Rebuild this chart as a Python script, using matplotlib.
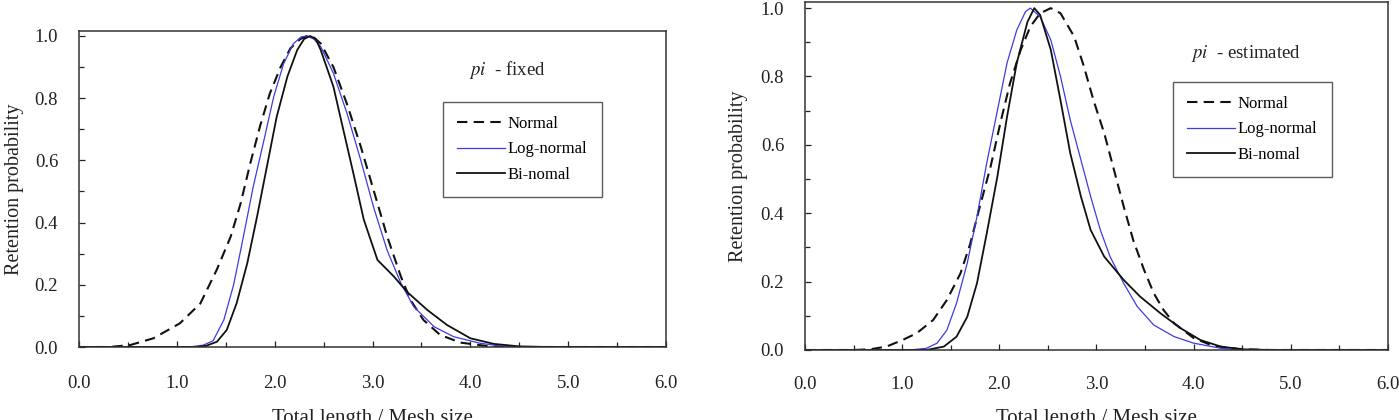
import matplotlib
matplotlib.use('Agg')
import matplotlib.pyplot as plt
import matplotlib.ticker as ticker

plt.rcParams['font.family'] = ['Liberation Serif', 'DejaVu Serif']
plt.rcParams['mathtext.fontset'] = 'stix'

labels = ['Normal', 'Log-normal', 'Bi-nomal']
titles = ['fixed', 'estimated']

# pi - fixed
fix_normal_x = [0.0, 0.3, 0.52, 0.76, 1.03, 1.24, 1.41, 1.55, 1.65, 1.75, 1.85, 1.95, 2.06, 2.16,
                2.26, 2.33, 2.40, 2.47, 2.60, 2.74, 2.88, 3.01, 3.15, 3.29, 3.39, 3.52, 3.69,
                3.90, 4.2, 4.5, 6.0]
fix_normal_y = [0.0, 0.0, 0.006, 0.028, 0.076, 0.14, 0.25, 0.355, 0.46, 0.59, 0.71, 0.815, 0.90,
                0.96, 0.99, 1.0, 0.995, 0.976, 0.90, 0.78, 0.644, 0.505, 0.355, 0.226, 0.15,
                0.087, 0.039, 0.014, 0.002, 0.0, 0.0]
fix_lognorm_x = [0.0, 1.0, 1.15, 1.27, 1.37, 1.48, 1.58, 1.68, 1.78, 1.89, 1.99, 2.09, 2.19, 2.27,
                 2.33, 2.40, 2.47, 2.60, 2.74, 2.88, 3.01, 3.15, 3.29, 3.42, 3.63, 3.83, 4.10,
                 4.31, 4.6, 6.0]
fix_lognorm_y = [0.0, 0.0, 0.001, 0.006, 0.02, 0.087, 0.20, 0.355, 0.515, 0.665, 0.805, 0.91,
                 0.975, 0.997, 1.0, 0.99, 0.966, 0.88, 0.75, 0.60, 0.45, 0.31, 0.205, 0.13,
                 0.065, 0.033, 0.012, 0.003, 0.0, 0.0]
fix_binorm_x = [0.0, 1.2, 1.30, 1.41, 1.51, 1.61, 1.72, 1.82, 1.92, 2.02, 2.13, 2.23, 2.30, 2.36,
                2.42, 2.47, 2.60, 2.70, 2.81, 2.91, 3.05, 3.22, 3.35, 3.56, 3.76, 4.00, 4.24,
                4.5, 4.8, 6.0]
fix_binorm_y = [0.0, 0.0, 0.004, 0.017, 0.055, 0.14, 0.27, 0.42, 0.58, 0.74, 0.87, 0.955, 0.99,
                1.0, 0.99, 0.955, 0.837, 0.70, 0.55, 0.41, 0.28, 0.226, 0.178, 0.119, 0.071,
                0.028, 0.01, 0.002, 0.0, 0.0]

# pi - estimated
est_normal_x = [0.0, 0.5, 0.67, 0.84, 1.01, 1.15, 1.32, 1.46, 1.60, 1.70, 1.80, 1.91, 2.01, 2.11,
                2.22, 2.32, 2.42, 2.53, 2.63, 2.77, 2.87, 2.97, 3.08, 3.18, 3.28, 3.38, 3.49,
                3.59, 3.69, 3.80, 4.0, 4.2, 4.5, 4.8, 6.0]
est_normal_y = [0.0, 0.0, 0.002, 0.01, 0.03, 0.049, 0.088, 0.146, 0.224, 0.31, 0.42, 0.536,
                0.663, 0.78, 0.878, 0.946, 0.985, 1.0, 0.985, 0.917, 0.83, 0.73, 0.634, 0.527,
                0.42, 0.32, 0.234, 0.166, 0.117, 0.078, 0.035, 0.012, 0.002, 0.0, 0.0]
est_lognorm_x = [0.0, 1.08, 1.25, 1.36, 1.46, 1.56, 1.67, 1.77, 1.87, 1.98, 2.08, 2.18, 2.27,
                 2.32, 2.42, 2.53, 2.63, 2.73, 2.84, 2.94, 3.04, 3.14, 3.28, 3.42, 3.59, 3.80,
                 4.0, 4.28, 4.5, 6.0]
est_lognorm_y = [0.0, 0.0, 0.005, 0.02, 0.058, 0.137, 0.254, 0.39, 0.546, 0.70, 0.84, 0.936,
                 0.99, 1.0, 0.975, 0.907, 0.80, 0.673, 0.556, 0.449, 0.351, 0.273, 0.195, 0.127,
                 0.073, 0.039, 0.02, 0.005, 0.0, 0.0]
est_binorm_x = [0.0, 1.25, 1.43, 1.56, 1.67, 1.77, 1.87, 1.98, 2.08, 2.18, 2.29, 2.36, 2.42,
                2.53, 2.63, 2.73, 2.84, 2.94, 3.08, 3.28, 3.45, 3.66, 3.87, 4.07, 4.28, 4.5,
                4.8, 6.0]
est_binorm_y = [0.0, 0.0, 0.01, 0.039, 0.097, 0.195, 0.34, 0.507, 0.683, 0.84, 0.96, 1.0, 0.98,
                0.878, 0.73, 0.576, 0.449, 0.351, 0.273, 0.205, 0.156, 0.107, 0.063, 0.029,
                0.01, 0.002, 0.0, 0.0]

panels = [
    (fix_normal_x, fix_normal_y, fix_lognorm_x, fix_lognorm_y, fix_binorm_x, fix_binorm_y),
    (est_normal_x, est_normal_y, est_lognorm_x, est_lognorm_y, est_binorm_x, est_binorm_y),
]

# axes placement / annotation spots, per panel
rects = [[0.0565, 0.1738, 0.4196, 0.7524], [0.5754, 0.1667, 0.4167, 0.8286]]
ytops = [1.016, 1.018]
text_pos = [(0.664, 0.877), (0.662, 0.851)]
leg_pos = [(0.620, 0.775), (0.631, 0.770)]
xlab_y = [-0.196, -0.170]
ylab_x = [-0.094, -0.098]
xpads = [20, 19]

BLUE = '#3c3ce0'

fig = plt.figure(figsize=(13.99, 4.2), dpi=100)

for i, p in enumerate(panels):
    ax = fig.add_axes(rects[i])
    ax.plot(p[0], p[1], color='#111111', lw=1.5, ls=(0, (5, 3)), label=labels[0])
    ax.plot(p[2], p[3], color=BLUE, lw=0.9, label=labels[1])
    ax.plot(p[4], p[5], color='#111111', lw=1.3, label=labels[2])

    ax.set_xlim(0, 6)
    ax.set_ylim(0, ytops[i])
    ax.xaxis.set_major_locator(ticker.MultipleLocator(1.0))
    ax.xaxis.set_minor_locator(ticker.MultipleLocator(0.5))
    ax.yaxis.set_major_locator(ticker.MultipleLocator(0.2))
    ax.yaxis.set_minor_locator(ticker.MultipleLocator(0.1))
    ax.xaxis.set_major_formatter(ticker.FormatStrFormatter('%.1f'))
    ax.yaxis.set_major_formatter(ticker.FormatStrFormatter('%.1f'))
    ax.tick_params(which='both', direction='in', top=False, right=False, labelsize=13.5,
                   colors='#222222')
    ax.tick_params(axis='x', which='both', pad=xpads[i])
    ax.tick_params(axis='y', which='both', pad=15)
    ax.tick_params(which='major', length=4.5, width=0.9)
    ax.tick_params(which='minor', length=3.5, width=0.9)
    for s in ax.spines.values():
        s.set_linewidth(1.1)
        s.set_color('#333333')

    ax.set_xlabel('Total length / Mesh size', fontsize=15, color='#222222')
    ax.set_ylabel('Retention probability', fontsize=14.5, color='#222222')
    ax.xaxis.set_label_coords(0.5, xlab_y[i])
    ax.yaxis.set_label_coords(ylab_x[i], 0.5)

    ax.text(text_pos[i][0], text_pos[i][1], r'$pi$  - ' + titles[i], transform=ax.transAxes,
            fontsize=13.5, va='center', ha='left', color='#222222')

    leg = ax.legend(loc='upper left', bbox_to_anchor=leg_pos[i], fontsize=12,
                    frameon=True, fancybox=False, edgecolor='#333333', borderpad=0.85,
                    handlelength=2.9, handletextpad=0.15, labelspacing=0.55,
                    borderaxespad=0)
    leg.get_frame().set_linewidth(1.0)

fig.savefig('out.png', dpi=100)
